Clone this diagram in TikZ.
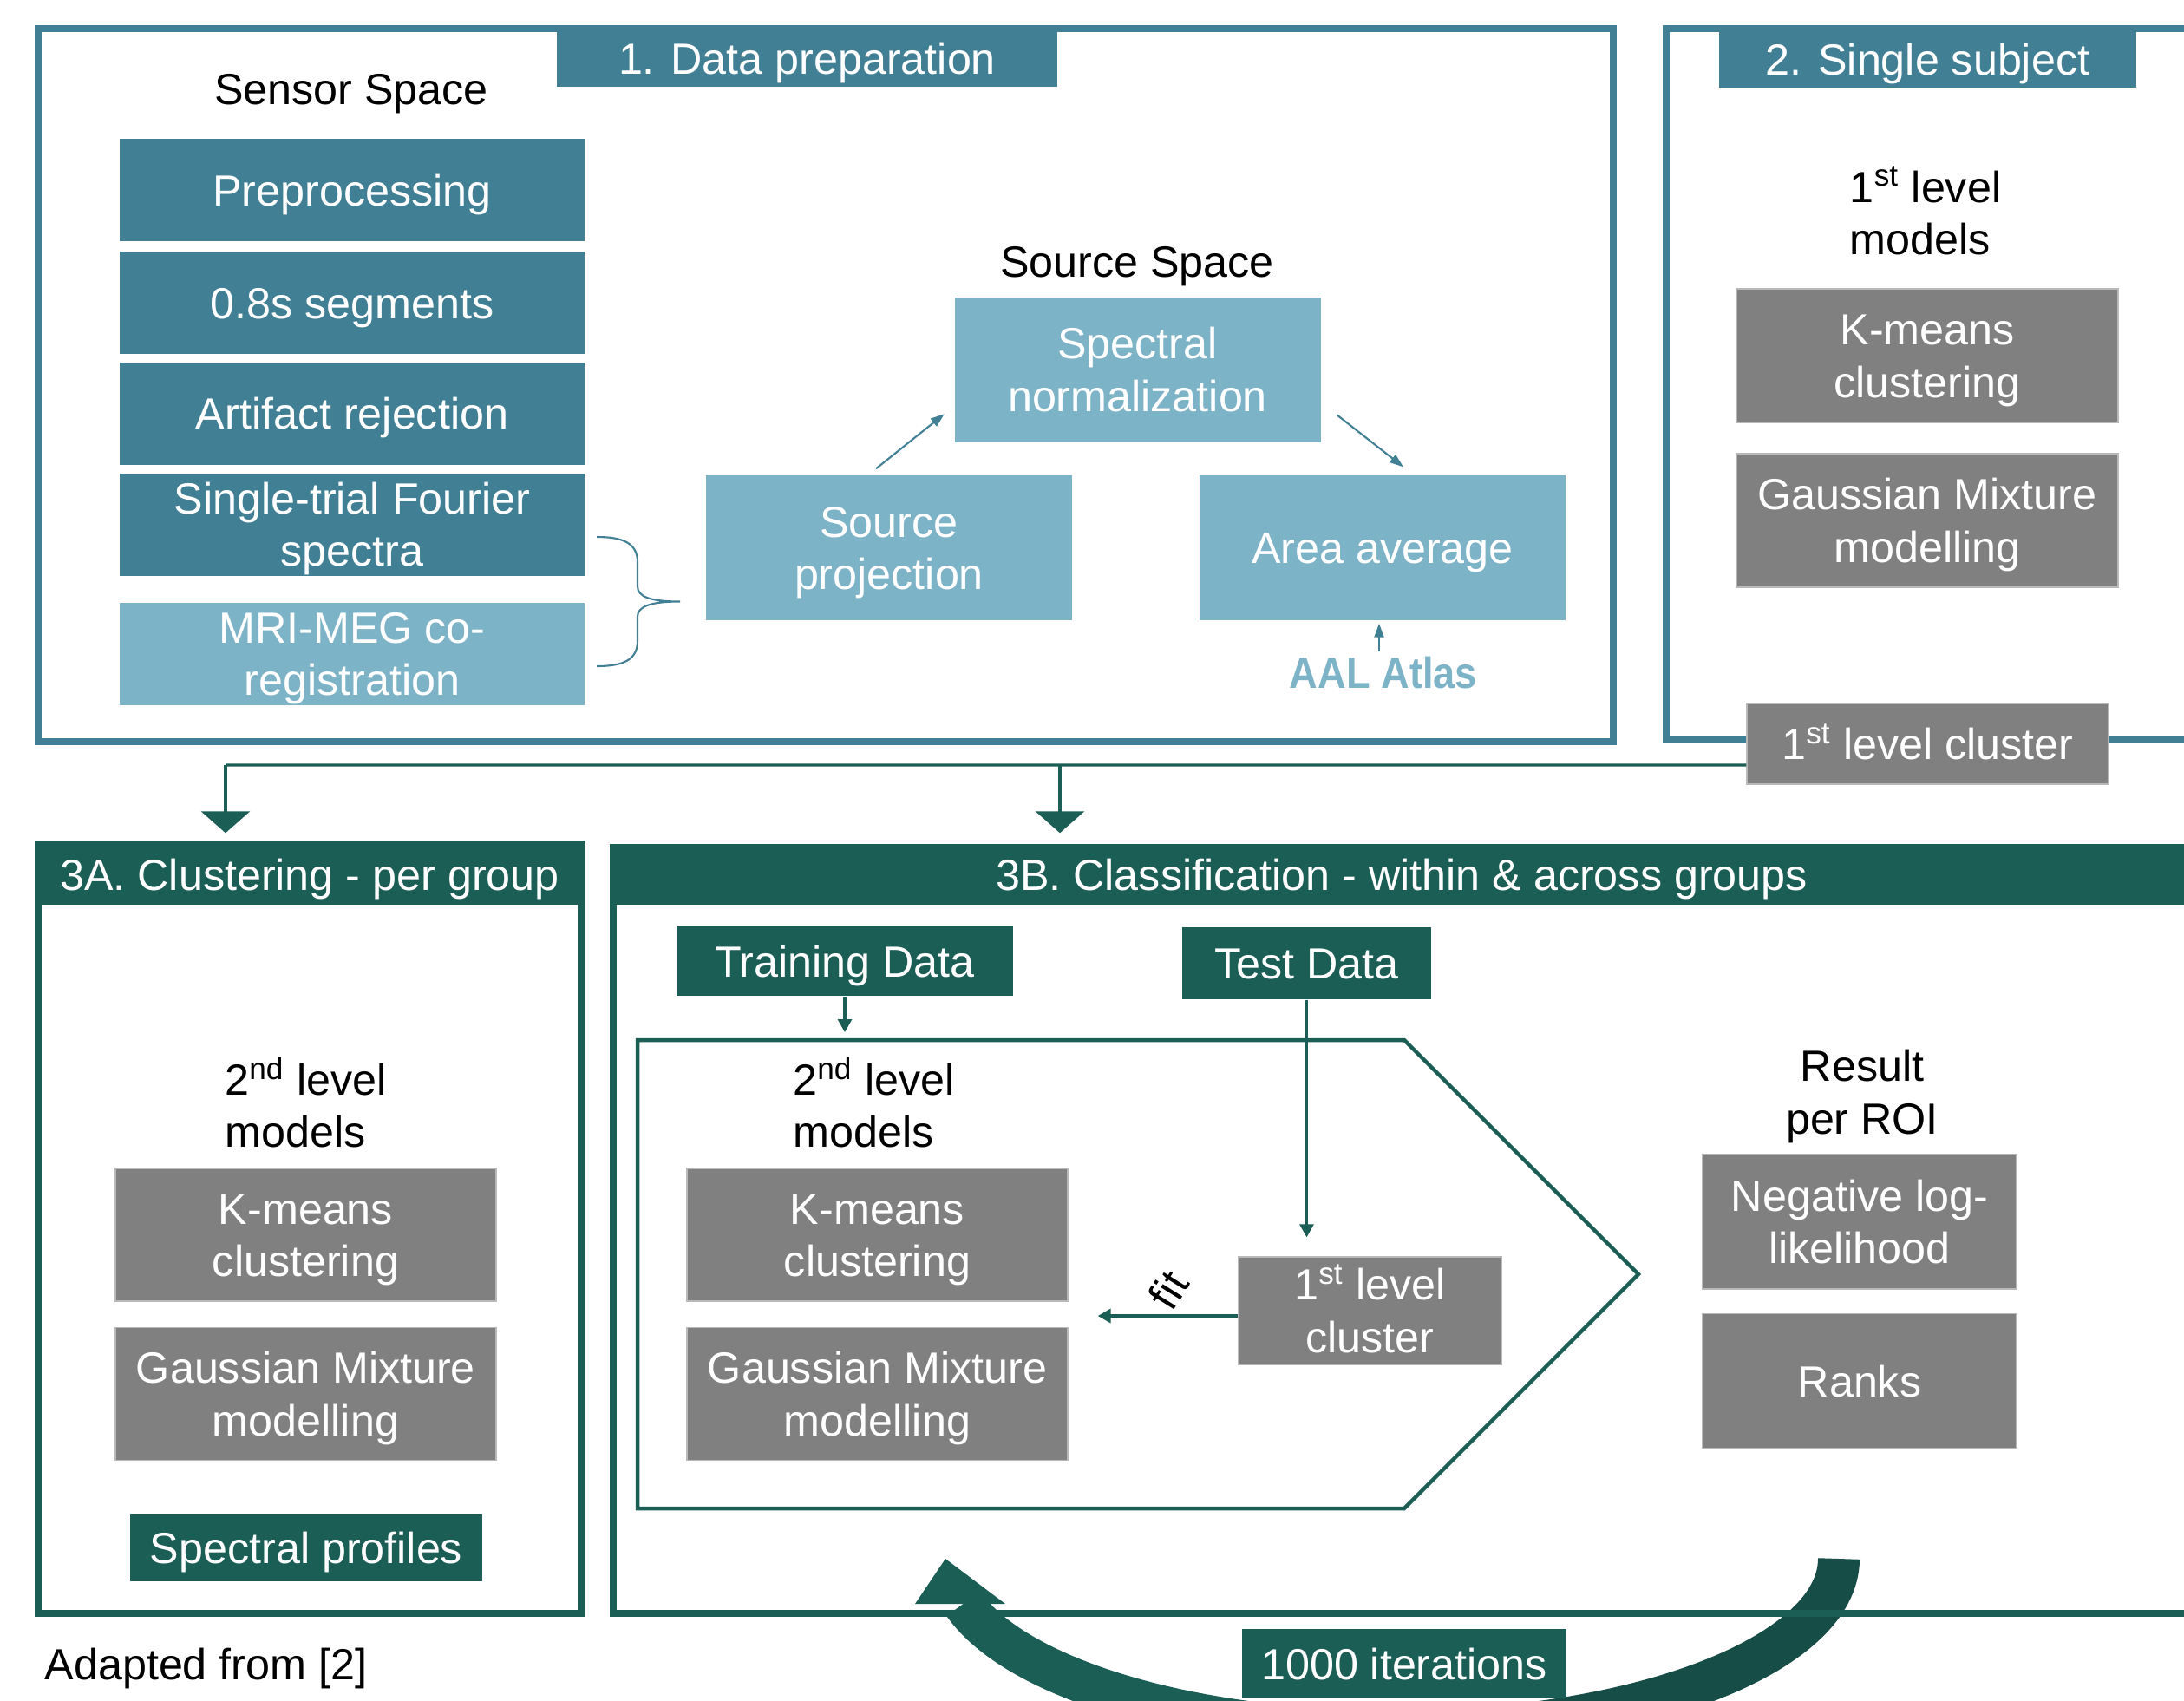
\documentclass[tikz,border=0pt]{standalone}
\usepackage{fontspec}
\setmainfont{Liberation Sans}
\usetikzlibrary{arrows.meta}
\definecolor{prepteal}{HTML}{418094}
\definecolor{srcblue}{HTML}{7DB3C7}
\definecolor{modelgrey}{HTML}{808080}
\definecolor{classgreen}{HTML}{1B5E55}
\definecolor{loopgreen}{HTML}{174D47}
\newcommand{\boxstrut}{\rule[-0.11cm]{0pt}{0.58cm}}

\begin{document}
\begin{tikzpicture}[font=\fontsize{14.3}{17.2}\selectfont,
  every node/.style={inner sep=0pt},
  strutted/.style={execute at begin node={\boxstrut}, execute at end node={\boxstrut}},
  twoline/.style={execute at begin node={\rule{0pt}{1.07cm}}},
  prepbox/.style={rectangle, strutted, fill=prepteal, text=white, minimum width=5.36cm, minimum height=1.18cm, align=center},
  srcbox/.style={rectangle, strutted, fill=srcblue, text=white, minimum width=4.22cm, minimum height=1.67cm, align=center},
  modelbox/.style={rectangle, strutted, fill=modelgrey, draw=modelgrey!55!white, line width=0.4pt, text=white, align=center},
  greenbox/.style={rectangle, strutted, fill=classgreen, text=white, align=center},
  tabbox/.style={rectangle, strutted, fill=prepteal, text=white, minimum height=0.65cm},
  thinarrow/.style={draw=prepteal, line width=0.6pt, -{Triangle[length=0.16cm, width=0.11cm]}},
  flowarrow/.style={draw=classgreen, line width=0.9pt, -{Triangle[length=0.15cm, width=0.16cm]}},
  bigarrow/.style={draw=classgreen, line width=0.9pt, -{Triangle[length=0.25cm, width=0.56cm]}}]

\useasboundingbox (0,0) rectangle (25.18,-19.60);
\clip (0,0) rectangle (25.18,-19.60);

% Iteration loop (behind the frames)
\draw[loopgreen, line width=0.48cm] (21.20,-17.97) arc[start angle=0, end angle=-90, x radius=5.135cm, y radius=1.99cm];
\draw[classgreen, line width=0.48cm] (16.065,-19.96) arc[start angle=-90, end angle=-164.9, x radius=5.135cm, y radius=1.99cm];
\fill[classgreen] (10.90,-17.97) -- (10.55,-18.49) -- (11.59,-18.49) -- cycle;

% 1. Data preparation
\draw[prepteal, line width=0.08cm] (0.44,-0.33) rectangle (18.60,-8.55);
\node[tabbox, minimum width=5.77cm] (tab1) at (9.305,-0.675) {1. Data preparation};

% Sensor space
\node[anchor=base] (sensor) at (4.05,-1.205) {Sensor Space};
\node[prepbox] (preproc) at (4.06,-2.19) {Preprocessing};
\node[prepbox] (segments) at (4.06,-3.49) {0.8s segments};
\node[prepbox] (artifact) at (4.06,-4.765) {Artifact rejection};
\node[prepbox, twoline] (fourier) at (4.06,-6.045) {Single-trial Fourier\\spectra};
\node[prepbox, twoline, fill=srcblue] (coreg) at (4.06,-7.535) {MRI-MEG co-\\registration};

% brace joining the last two steps
\draw[prepteal, line width=0.6pt] (6.88,-6.19) .. controls (7.18,-6.19) and (7.35,-6.26) .. (7.35,-6.48)
  -- (7.35,-6.76) .. controls (7.35,-6.88) and (7.50,-6.935) .. (7.84,-6.935)
  .. controls (7.50,-6.935) and (7.35,-6.99) .. (7.35,-7.11)
  -- (7.35,-7.39) .. controls (7.35,-7.61) and (7.18,-7.68) .. (6.88,-7.68);

% Source space
\node[anchor=base] (source) at (13.11,-3.19) {Source Space};
\node[srcbox, twoline] (specnorm) at (13.115,-4.26) {Spectral\\normalization};
\node[srcbox, twoline] (srcproj) at (10.25,-6.315) {Source\\projection};
\node[srcbox] (areaavg) at (15.94,-6.315) {Area average};
\node[text=srcblue, font=\fontsize{14.3}{17.2}\selectfont\bfseries, xscale=0.9, transform shape] (aal) at (15.95,-7.76) {AAL Atlas};

\draw[thinarrow] ([xshift=-0.15cm, yshift=0.07cm]srcproj.north) -- ([xshift=-0.11cm, yshift=0.33cm]specnorm.south west);
\draw[thinarrow] ([xshift=0.18cm, yshift=0.32cm]specnorm.south east) -- ([xshift=0.24cm, yshift=0.09cm]areaavg.north);
\draw[thinarrow, shorten <=0.06cm, shorten >=0.03cm] ([xshift=-0.05cm]aal.north) -- ([xshift=-0.05cm]aal.north |- areaavg.south);

% 2. Single subject
\draw[prepteal, line width=0.08cm] (25.6,-0.33) -- (19.21,-0.33) -- (19.21,-8.52) -- (25.6,-8.52);
\node[tabbox, minimum width=4.81cm] (tab2) at (22.225,-0.68) {2. Single subject};
\node[align=left] (lvl1) at (22.20,-2.43) {1\textsuperscript{st} level\\models};
\node[modelbox, twoline, minimum width=4.40cm, minimum height=1.54cm] (kmeans1) at (22.22,-4.10) {K-means\\clustering};
\node[modelbox, twoline, minimum width=4.40cm, minimum height=1.54cm] (gmm1) at (22.22,-6.00) {Gaussian Mixture\\modelling};
\node[modelbox, minimum width=4.17cm, minimum height=0.93cm] (cluster1) at (22.225,-8.575) {1\textsuperscript{st} level cluster};

% 3A. Clustering
\draw[classgreen, line width=0.08cm] (0.44,-9.73) rectangle (6.70,-18.60);
\node[greenbox, minimum width=6.34cm, minimum height=0.70cm] (titleA) at (3.57,-10.08) {3A. Clustering - per group};
\node[align=left] (lvl2a) at (3.525,-12.71) {2\textsuperscript{nd} level\\models};
\node[modelbox, twoline, minimum width=4.39cm, minimum height=1.53cm] (kmeans2a) at (3.525,-14.235) {K-means\\clustering};
\node[modelbox, twoline, minimum width=4.39cm, minimum height=1.53cm] (gmm2a) at (3.525,-16.07) {Gaussian Mixture\\modelling};
\node[greenbox, minimum width=4.06cm, minimum height=0.78cm] (profiles) at (3.53,-17.84) {Spectral profiles};
\node[anchor=base west] (adapted) at (0.51,-19.36) {Adapted from [2]};

% 3B. Classification
\draw[classgreen, line width=0.08cm] (25.6,-18.60) -- (7.07,-18.60) -- (7.07,-9.73);
\node[greenbox, minimum width=18.26cm, minimum height=0.70cm] (titleB) at (16.16,-10.08) {3B. Classification - within \& across groups};
\node[greenbox, minimum width=3.88cm, minimum height=0.80cm] (train) at (9.74,-11.08) {Training Data};
\node[greenbox, minimum width=2.87cm, minimum height=0.83cm] (test) at (15.065,-11.105) {Test Data};

\coordinate (hextop) at (16.19,-11.99);
\draw[classgreen, line width=0.045cm] (7.35,-11.99) -- (hextop) -- (18.89,-14.69) -- (16.19,-17.39) -- (7.35,-17.39) -- cycle;

\node[align=left] (lvl2b) at (10.075,-12.71) {2\textsuperscript{nd} level\\models};
\node[modelbox, twoline, minimum width=4.39cm, minimum height=1.53cm] (kmeans2b) at (10.115,-14.235) {K-means\\clustering};
\node[modelbox, twoline, minimum width=4.39cm, minimum height=1.53cm] (gmm2b) at (10.115,-16.07) {Gaussian Mixture\\modelling};
\node[modelbox, twoline, minimum width=3.03cm, minimum height=1.24cm] (cluster2) at (15.795,-15.11) {1\textsuperscript{st} level\\cluster};
\node[rotate=58] (fitlabel) at (13.47,-14.87) {fit};

\node[align=center] (roi) at (21.47,-12.64) {Result\\per ROI};
\node[modelbox, twoline, minimum width=3.62cm, minimum height=1.55cm] (negll) at (21.44,-14.085) {Negative log-\\likelihood};
\node[modelbox, minimum width=3.62cm, minimum height=1.55cm] (ranks) at (21.44,-15.92) {Ranks};

\node[greenbox, minimum width=3.74cm, minimum height=0.80cm] (iter) at (16.19,-19.18) {1000 iterations};

% Draw connections
\coordinate (branchA) at (2.60,-8.82);
\coordinate (branchB) at (12.22,-8.82);
\draw[classgreen, line width=0.9pt] ([yshift=-0.245cm]cluster1.west) -- (branchA);
\draw[bigarrow, shorten >=0.12cm] (branchA) -- (branchA |- titleA.north);
\draw[bigarrow, shorten >=0.12cm] (branchB) -- (branchB |- titleB.north);
\draw[flowarrow, shorten >=0.09cm] (train.south) -- (train.south |- hextop);
\draw[flowarrow, shorten >=0.22cm] (test.south) -- (test.south |- cluster2.north);
\draw[flowarrow, line width=1.2pt, shorten >=0.34cm] ([yshift=-0.06cm]cluster2.west) -- ([yshift=-0.06cm]cluster2.west -| kmeans2b.east);

\end{tikzpicture}
\end{document}
